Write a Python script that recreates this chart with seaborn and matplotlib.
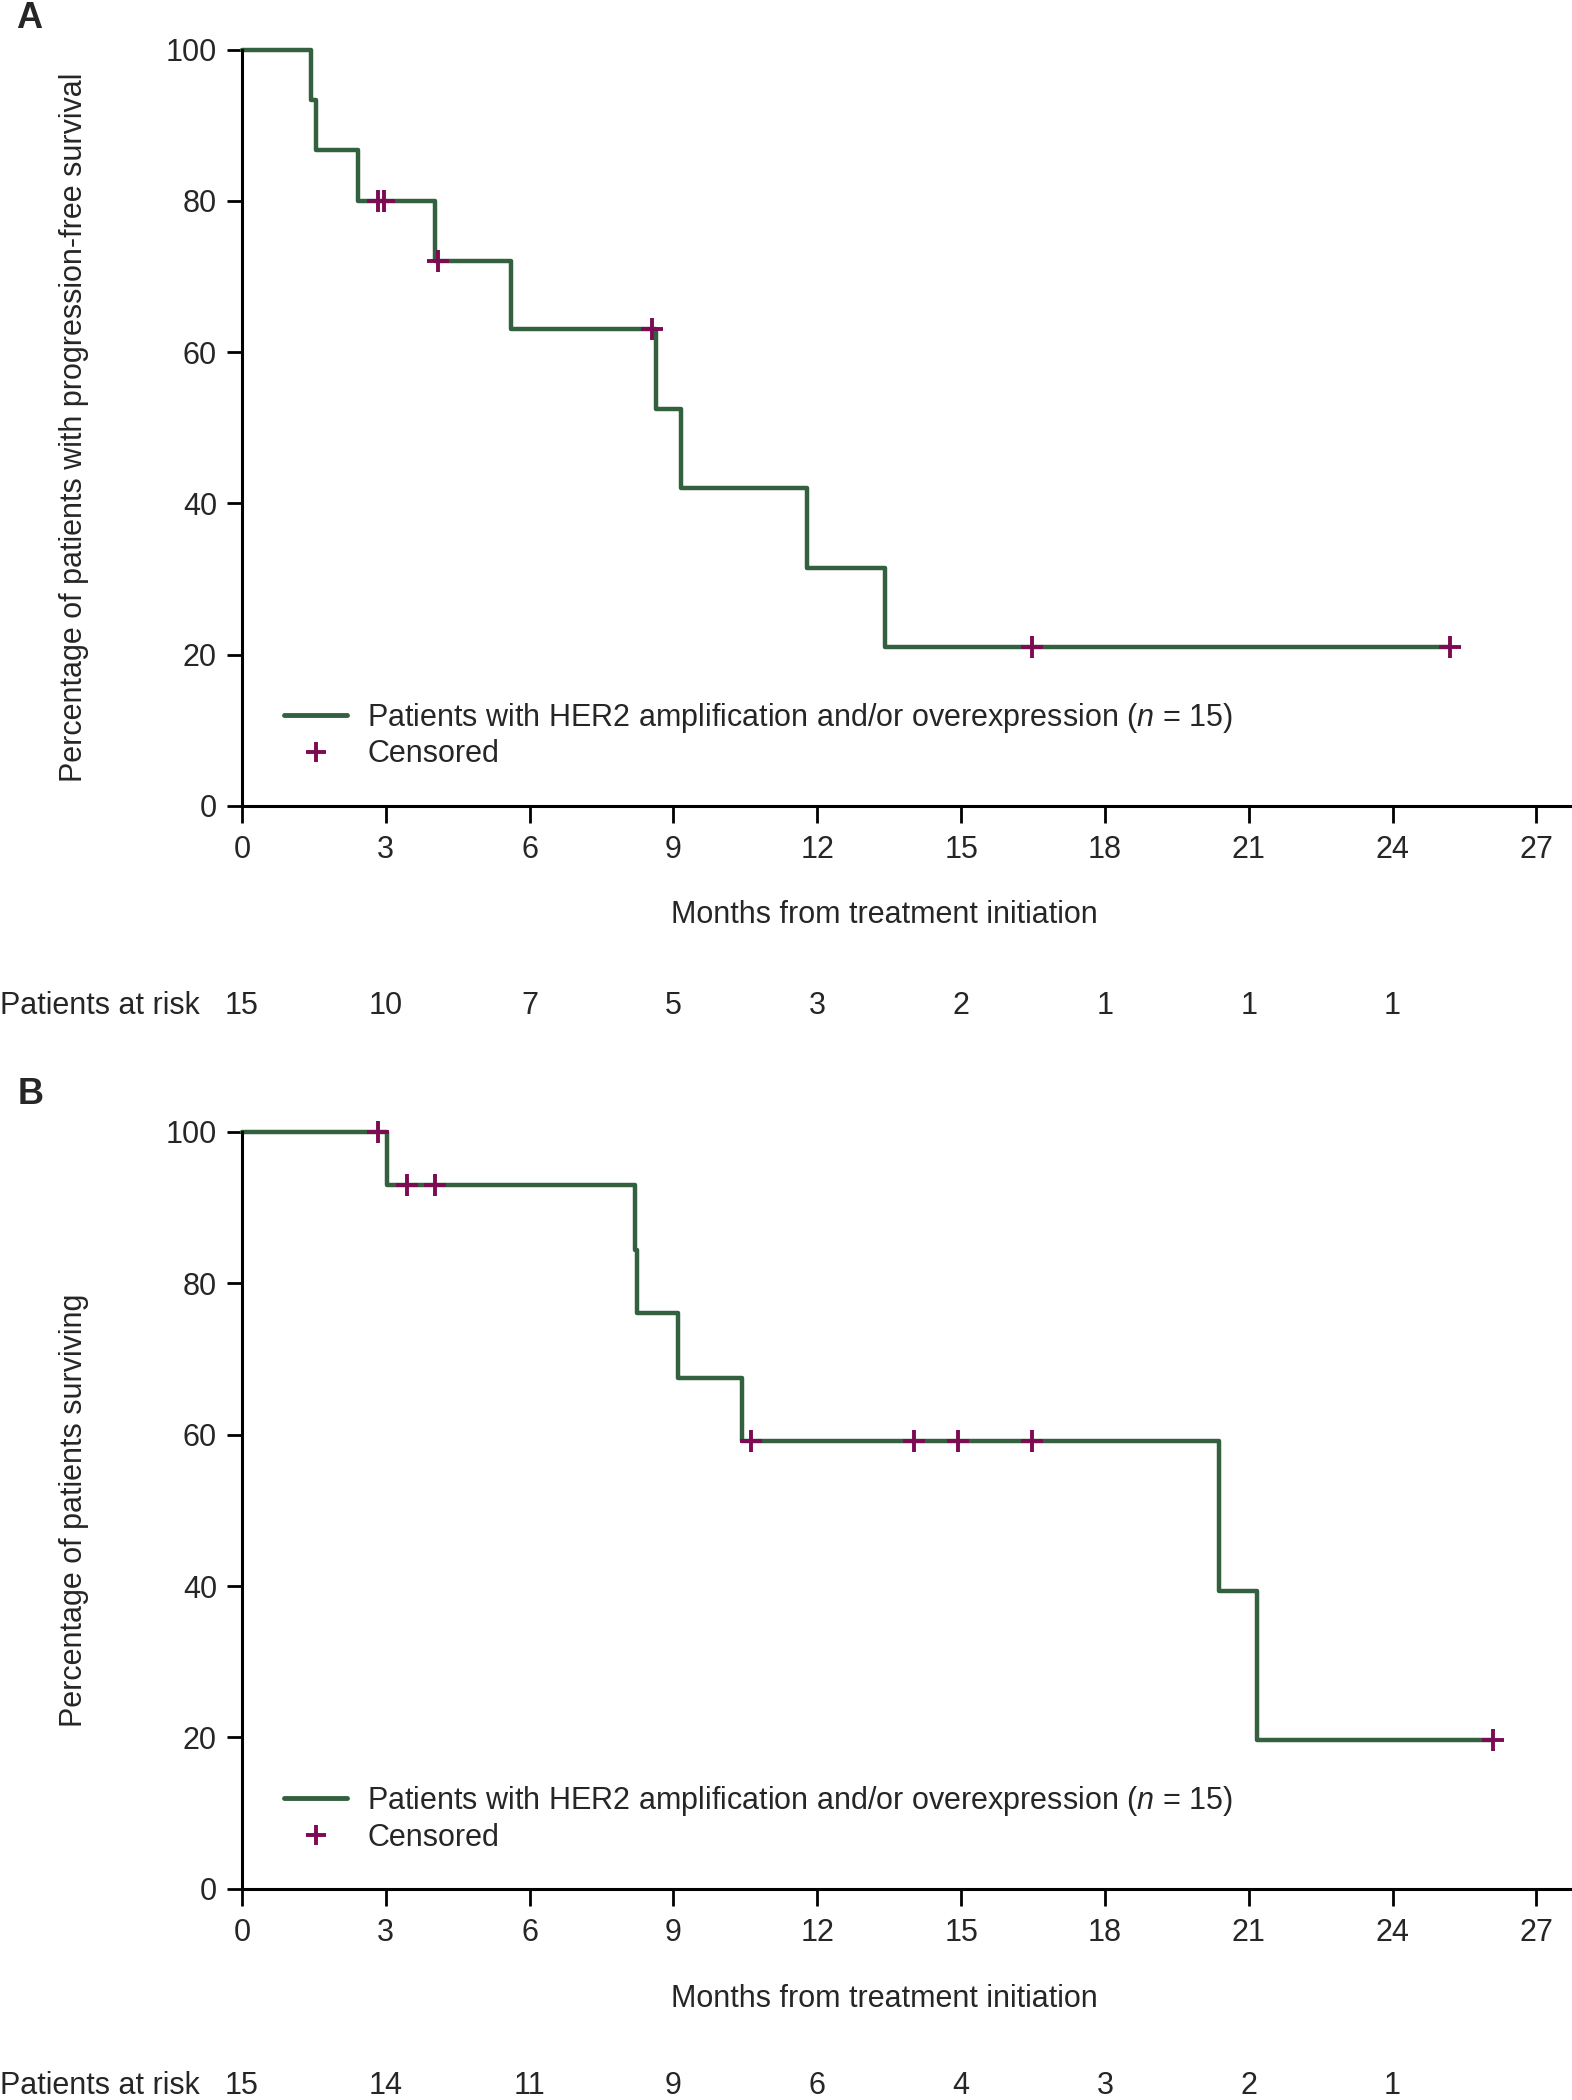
import numpy as np
import matplotlib
matplotlib.use("Agg")
import matplotlib.pyplot as plt
import seaborn as sns
from matplotlib.lines import Line2D
from matplotlib.transforms import blended_transform_factory

# Panel A: progression-free survival (months at each step, % after the step)
pfs_time = [0, 1.45, 1.55, 2.42, 4.03, 5.62, 8.64, 9.15, 11.78, 13.41, 25.2]
pfs_pct = [100, 93.3, 86.7, 80, 72, 63, 52.5, 42, 31.5, 21, 21]
pfs_censored = [2.84, 2.96, 4.09, 8.56, 16.47, 25.2]
pfs_at_risk = [15, 10, 7, 5, 3, 2, 1, 1, 1]

# Panel B: overall survival
os_time = [0, 3.03, 8.19, 8.24, 9.09, 10.43, 20.39, 21.18, 26.1]
os_pct = [100, 92.9, 84.4, 76, 67.5, 59.1, 39.4, 19.7, 19.7]
os_censored = [2.83, 3.45, 4.03, 10.61, 14.02, 14.93, 16.48, 26.1]
os_at_risk = [15, 14, 11, 9, 6, 4, 3, 2, 1]

x_ticks = [0, 3, 6, 9, 12, 15, 18, 21, 24, 27]
y_ticks = [0, 20, 40, 60, 80, 100]

GREEN = "#33603f"
PURPLE = "#7d0a52"
FS = 22

sns.set_theme(style="ticks")
plt.rcParams["font.family"] = ["Liberation Sans", "DejaVu Sans"]
plt.rcParams["mathtext.fontset"] = "custom"
plt.rcParams["mathtext.it"] = "Liberation Sans:italic"
plt.rcParams["mathtext.rm"] = "Liberation Sans"

fig = plt.figure(figsize=(15.72, 21), dpi=100)
ax_a = fig.add_axes([0.1539, 0.6163, 0.8448, 0.3601])
ax_b = fig.add_axes([0.1539, 0.1005, 0.8448, 0.3606])


def draw_panel(ax, times, pct, censored, at_risk, ylabel, risk_y):
    sns.lineplot(x=times, y=pct, drawstyle="steps-post", estimator=None, sort=False,
                 color=GREEN, linewidth=3.2, ax=ax, clip_on=False, zorder=2)
    # censored marks sit on the curve: look up the step level at each time
    idx = np.searchsorted(times, censored, side="right") - 1
    cens_y = np.array(pct)[idx]
    sns.scatterplot(x=censored, y=cens_y, marker="+", s=250, color=PURPLE,
                    linewidth=2.8, ax=ax, zorder=3, clip_on=False)

    ax.set_xlim(0, 27.7)
    ax.set_ylim(0, 100)
    ax.set_xticks(x_ticks)
    ax.set_yticks(y_ticks)
    ax.tick_params(axis="x", length=12, width=2, pad=9, labelsize=FS, color="black")
    ax.tick_params(axis="y", length=11, width=2, pad=7, labelsize=FS, color="black")
    for side in ["top", "right"]:
        ax.spines[side].set_visible(False)
    for side in ["left", "bottom"]:
        ax.spines[side].set_linewidth(2.2)
        ax.spines[side].set_color("black")

    ax.set_xlabel("Months from treatment initiation", fontsize=FS)
    ax.xaxis.set_label_coords(0.484, -0.125)
    ax.set_ylabel(ylabel, fontsize=FS)
    ax.yaxis.set_label_coords(-0.115, 0.5)

    handles = [Line2D([], [], color=GREEN, lw=3.5),
               Line2D([], [], color=PURPLE, marker="+", ls="None", ms=15, mew=2.8)]
    labels = ["Patients with HER2 amplification and/or overexpression ($\\mathit{n}$ = 15)",
              "Censored"]
    ax.legend(handles, labels, loc="lower left", bbox_to_anchor=(0.032, 0.048),
              frameon=False, fontsize=FS, borderpad=0, borderaxespad=0,
              handlelength=2.06, handletextpad=0.65, labelspacing=0.15)

    # numbers at risk under the axis
    tr = blended_transform_factory(ax.transData, fig.transFigure)
    for xt, n in zip(x_ticks, at_risk):
        ax.text(xt, risk_y, str(n), transform=tr, ha="center", va="center", fontsize=FS)
    fig.text(0.0, risk_y, "Patients at risk", ha="left", va="center", fontsize=FS)


draw_panel(ax_a, pfs_time, pfs_pct, pfs_censored, pfs_at_risk,
           "Percentage of patients with progression-free survival", 0.5210)
draw_panel(ax_b, os_time, os_pct, os_censored, os_at_risk,
           "Percentage of patients surviving", 0.0067)

fig.text(0.010, 1 - 19 / 2100, "A", fontsize=26, fontweight="bold", ha="left", va="center")
fig.text(0.011, 1 - 1094 / 2100, "B", fontsize=26, fontweight="bold", ha="left", va="center")

fig.savefig("out.png", dpi=100)
